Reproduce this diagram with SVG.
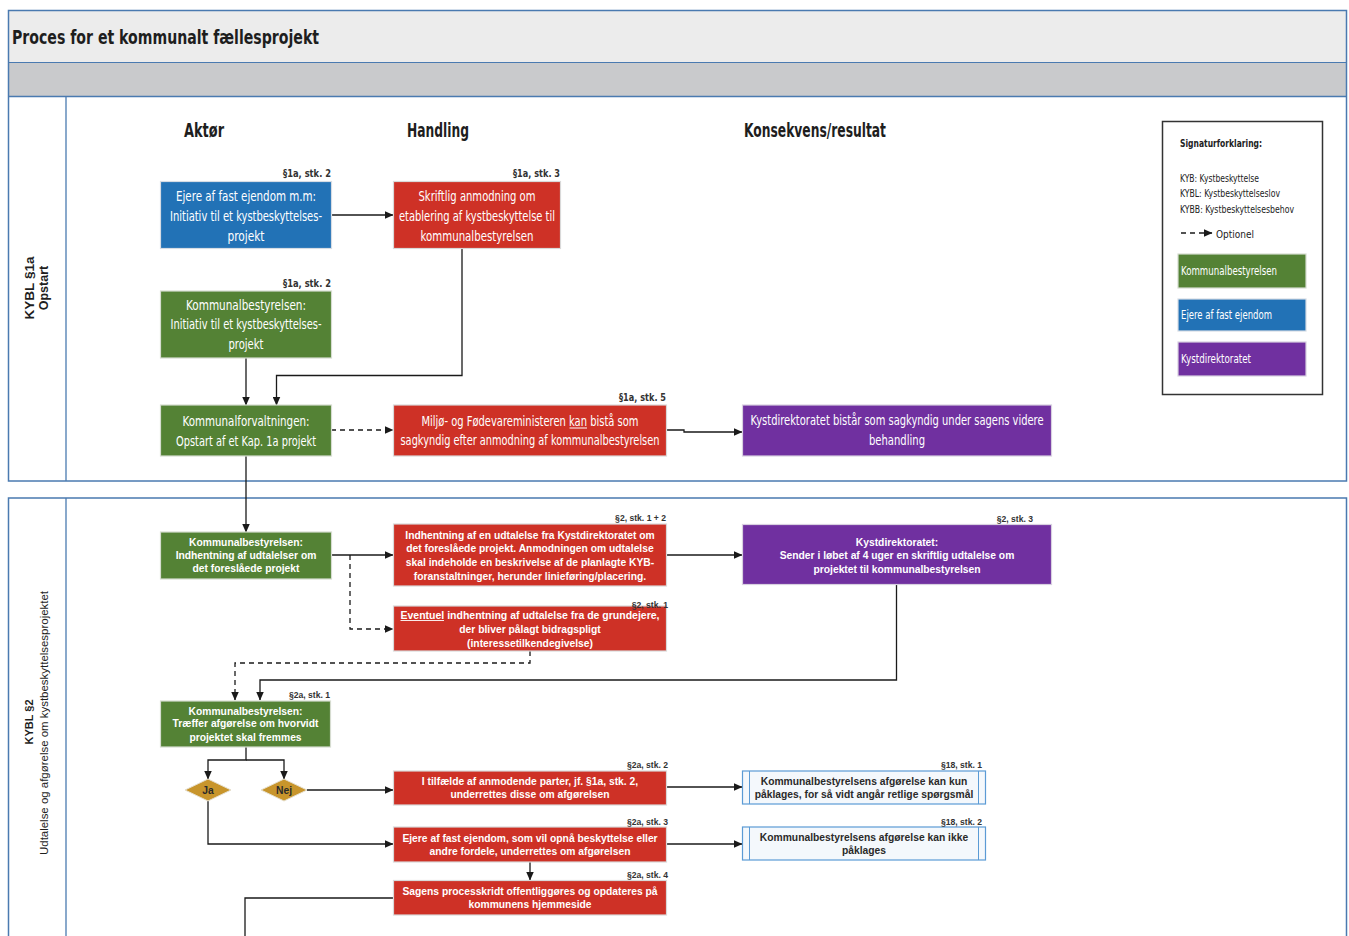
<svg xmlns="http://www.w3.org/2000/svg" width="1349" height="936" viewBox="0 0 1349 936">
<defs>
<marker id="ah" markerUnits="userSpaceOnUse" markerWidth="9" markerHeight="8" refX="8.5" refY="4" orient="auto">
<path d="M0,0 L9,4 L0,8 z" fill="#1a1a1a"/>
</marker>
<style>
.frame{fill:none;stroke:#4a7ab0;stroke-width:1.5}
.n1{font-family:"Liberation Sans Narrow","DejaVu Sans Condensed","Liberation Sans",sans-serif;font-size:13.5px;fill:#fff;text-anchor:middle}
.hd{font-family:"Liberation Sans Narrow","DejaVu Sans Condensed","Liberation Sans",sans-serif;font-size:20px;fill:#1e1e1e}
.s1{font-family:"Liberation Sans Narrow","DejaVu Sans Condensed","Liberation Sans",sans-serif;font-size:11px;font-weight:bold;fill:#333;text-anchor:end}
.n2{font-family:"Liberation Sans",Arial,sans-serif;font-size:10.3px;font-weight:bold;fill:#fff;text-anchor:middle}
.d2{font-family:"Liberation Sans",Arial,sans-serif;font-size:10.3px;font-weight:bold;fill:#2a2a2a;text-anchor:middle}
.s2{font-family:"Liberation Sans",Arial,sans-serif;font-size:8.6px;font-weight:bold;fill:#333;text-anchor:end}
.lg{font-family:"Liberation Sans Narrow","DejaVu Sans Condensed","Liberation Sans",sans-serif;font-size:10.5px;fill:#222}
.lw{font-family:"Liberation Sans Narrow","DejaVu Sans Condensed","Liberation Sans",sans-serif;font-size:11.5px;fill:#fff}
.blue{fill:#2272b6;stroke:#d6dce4;stroke-width:1.2}
.red{fill:#ce3126;stroke:#d9d9d9;stroke-width:1.2}
.green{fill:#548235;stroke:#d6dcd0;stroke-width:1.2}
.purple{fill:#7030a0;stroke:#d8d0e0;stroke-width:1.2}
.res{fill:#f4f8fc;stroke:#5b9bd5;stroke-width:1.2}
.dia{fill:#c8952c;stroke:#e6e0d0;stroke-width:1}
.c{fill:none;stroke:#1a1a1a;stroke-width:1.3}
.cd{fill:none;stroke:#1a1a1a;stroke-width:1.3;stroke-dasharray:5,4}
.side{font-family:"Liberation Sans",Arial,sans-serif;fill:#1e1e1e;text-anchor:middle}
</style>
</defs>

<!-- frame -->
<g id="frame">
<rect x="8.5" y="10.5" width="1338" height="52" fill="#ececec"/>
<rect x="8.5" y="62.5" width="1338" height="34" fill="#c9cacc"/>
<rect x="8.5" y="10.5" width="1338" height="470.5" class="frame"/>
<line x1="8.5" y1="62.5" x2="1346.5" y2="62.5" stroke="#4a7ab0" stroke-width="1"/>
<line x1="8.5" y1="96.5" x2="1346.5" y2="96.5" stroke="#4a7ab0" stroke-width="1.5"/>
<line x1="66" y1="96.5" x2="66" y2="481" stroke="#4a7ab0" stroke-width="1.3"/>
<path d="M8.5,936 V498 H1346.5 V936" class="frame"/>
<line x1="66" y1="498" x2="66" y2="936" stroke="#4a7ab0" stroke-width="1.3"/>
<text x="12" y="44" class="hd" font-size="21" font-weight="bold" textLength="307" lengthAdjust="spacingAndGlyphs">Proces for et kommunalt fællesprojekt</text>
<text class="side" font-size="12.5" font-weight="bold" transform="rotate(-90 34 288)" x="34" y="288" textLength="63" lengthAdjust="spacingAndGlyphs">KYBL §1a</text>
<text class="side" font-size="12.5" font-weight="bold" transform="rotate(-90 48 288)" x="48" y="288">Opstart</text>
<text class="side" font-size="11" font-weight="bold" transform="rotate(-90 33 722)" x="33" y="722">KYBL §2</text>
<text class="side" font-size="11" transform="rotate(-90 48 723)" x="48" y="723" textLength="264" lengthAdjust="spacingAndGlyphs">Udtalelse og afgørelse om kystbeskyttelsesprojektet</text>
</g>

<g id="headers">
<text x="184" y="137" class="hd" font-weight="bold" textLength="40" lengthAdjust="spacingAndGlyphs">Aktør</text>
<text x="407" y="137" class="hd" font-weight="bold" textLength="62" lengthAdjust="spacingAndGlyphs">Handling</text>
<text x="744" y="137" class="hd" font-weight="bold" textLength="142" lengthAdjust="spacingAndGlyphs">Konsekvens/resultat</text>
</g>

<!-- legend -->
<g id="legend">
<rect x="1162.5" y="121.5" width="160" height="273" fill="#fff" stroke="#333" stroke-width="1.5"/>
<text x="1180" y="147" class="lg" font-weight="bold" font-size="11.5" textLength="82" lengthAdjust="spacingAndGlyphs">Signaturforklaring:</text>
<text x="1180" y="182" class="lg" textLength="79" lengthAdjust="spacingAndGlyphs">KYB: Kystbeskyttelse</text>
<text x="1180" y="197" class="lg" textLength="100" lengthAdjust="spacingAndGlyphs">KYBL: Kystbeskyttelseslov</text>
<text x="1180" y="213" class="lg" textLength="114" lengthAdjust="spacingAndGlyphs">KYBB: Kystbeskyttelsesbehov</text>
<path d="M1181,233 H1212" class="cd" stroke-dasharray="5,3" marker-end="url(#ah)"/>
<text x="1216" y="237.5" class="lg" font-size="12" textLength="38" lengthAdjust="spacingAndGlyphs">Optionel</text>
<rect x="1178" y="254" width="128" height="34" class="green"/>
<text x="1181" y="275" class="lw" textLength="96" lengthAdjust="spacingAndGlyphs">Kommunalbestyrelsen</text>
<rect x="1178" y="299" width="128" height="32" class="blue"/>
<text x="1181" y="319" class="lw" textLength="91" lengthAdjust="spacingAndGlyphs">Ejere af fast ejendom</text>
<rect x="1178" y="342" width="128" height="34" class="purple"/>
<text x="1181" y="363" class="lw" textLength="70" lengthAdjust="spacingAndGlyphs">Kystdirektoratet</text>
</g>

<!-- connectors -->
<g id="connectors">
<path d="M331,215 H393" class="c" marker-end="url(#ah)"/>
<path d="M462,248 V375.5 H276.5 V405" class="c" marker-end="url(#ah)"/>
<path d="M246,358 V405" class="c" marker-end="url(#ah)"/>
<path d="M331,430 H393" class="cd" marker-end="url(#ah)"/>
<path d="M666,430 H684 V432 H742" class="c" marker-end="url(#ah)"/>
<path d="M246,456 V532" class="c" marker-end="url(#ah)"/>
<path d="M331,555 H393" class="c" marker-end="url(#ah)"/>
<path d="M666,555 H742" class="c" marker-end="url(#ah)"/>
<path d="M350,555 V629 H393" class="cd" marker-end="url(#ah)"/>
<path d="M530,651 V663 H235 V700" class="cd" marker-end="url(#ah)"/>
<path d="M896.5,585 V680 H260 V700" class="c" marker-end="url(#ah)"/>
<path d="M246,747 V760 H208 V779" class="c" marker-end="url(#ah)"/>
<path d="M246,760 H284 V779" class="c" marker-end="url(#ah)"/>
<path d="M307,790 H393" class="c" marker-end="url(#ah)"/>
<path d="M666,787 H742" class="c" marker-end="url(#ah)"/>
<path d="M208,801 V844 H393" class="c" marker-end="url(#ah)"/>
<path d="M666,844 H742" class="c" marker-end="url(#ah)"/>
<path d="M530,862 V880" class="c" marker-end="url(#ah)"/>
<path d="M393,898 H245 V936" class="c"/>
</g>

<!-- section 1 nodes -->
<g id="n-ejere">
<rect x="160.5" y="181.5" width="171" height="67" class="blue"/>
<text class="s1" x="331" y="177" textLength="48" lengthAdjust="spacingAndGlyphs">§1a, stk. 2</text>
<text class="n1" x="246" y="201" textLength="140" lengthAdjust="spacingAndGlyphs">Ejere af fast ejendom m.m:</text>
<text class="n1" x="246" y="221" textLength="152" lengthAdjust="spacingAndGlyphs">Initiativ til et kystbeskyttelses-</text>
<text class="n1" x="246" y="241" textLength="37" lengthAdjust="spacingAndGlyphs">projekt</text>
</g>
<g id="n-skriftlig">
<rect x="393.5" y="181.5" width="167" height="67" class="red"/>
<text class="s1" x="560" y="177" textLength="47" lengthAdjust="spacingAndGlyphs">§1a, stk. 3</text>
<text class="n1" x="477" y="201" textLength="117" lengthAdjust="spacingAndGlyphs">Skriftlig anmodning om</text>
<text class="n1" x="477" y="221" textLength="156" lengthAdjust="spacingAndGlyphs">etablering af kystbeskyttelse til</text>
<text class="n1" x="477" y="241" textLength="113" lengthAdjust="spacingAndGlyphs">kommunalbestyrelsen</text>
</g>
<g id="n-kb-initiativ">
<rect x="160.5" y="291" width="171" height="67" class="green"/>
<text class="s1" x="331" y="287" textLength="48" lengthAdjust="spacingAndGlyphs">§1a, stk. 2</text>
<text class="n1" x="246" y="309.5" textLength="120" lengthAdjust="spacingAndGlyphs">Kommunalbestyrelsen:</text>
<text class="n1" x="246" y="329" textLength="151" lengthAdjust="spacingAndGlyphs">Initiativ til et kystbeskyttelses-</text>
<text class="n1" x="246" y="349" textLength="35" lengthAdjust="spacingAndGlyphs">projekt</text>
</g>
<g id="n-kf-opstart">
<rect x="160.5" y="405" width="171" height="51" class="green"/>
<text class="n1" x="246" y="426" textLength="127" lengthAdjust="spacingAndGlyphs">Kommunalforvaltningen:</text>
<text class="n1" x="246" y="446" textLength="140" lengthAdjust="spacingAndGlyphs">Opstart af et Kap. 1a projekt</text>
</g>
<g id="n-miljo">
<rect x="393.5" y="405" width="273" height="51" class="red"/>
<text class="s1" x="666" y="401" textLength="47" lengthAdjust="spacingAndGlyphs">§1a, stk. 5</text>
<text class="n1" x="530" y="425.5" textLength="217" lengthAdjust="spacingAndGlyphs">Miljø- og Fødevareministeren kan bistå som</text>
<line x1="569.5" y1="428" x2="587" y2="428" stroke="#fff" stroke-width="1"/>
<text class="n1" x="530" y="444.5" textLength="259" lengthAdjust="spacingAndGlyphs">sagkyndig efter anmodning af kommunalbestyrelsen</text>
</g>
<g id="n-kd-bistaar">
<rect x="742.5" y="405" width="309" height="51" class="purple"/>
<text class="n1" x="897" y="424.5" textLength="293" lengthAdjust="spacingAndGlyphs">Kystdirektoratet bistår som sagkyndig under sagens videre</text>
<text class="n1" x="897" y="444.5" textLength="56" lengthAdjust="spacingAndGlyphs">behandling</text>
</g>

<!-- section 2 nodes -->
<g id="n-kb-indhentning">
<rect x="160.5" y="532" width="171" height="47" class="green"/>
<text class="n2" x="246" y="545.5">Kommunalbestyrelsen:</text>
<text class="n2" x="246" y="558.5">Indhentning af udtalelser om</text>
<text class="n2" x="246" y="571.5">det foreslåede projekt</text>
</g>
<g id="n-udtalelse-kd">
<rect x="393.5" y="524" width="273" height="62" class="red"/>
<text class="s2" x="666" y="521">§2, stk. 1 + 2</text>
<text class="n2" x="530" y="538.5">Indhentning af en udtalelse fra Kystdirektoratet om</text>
<text class="n2" x="530" y="552">det foreslåede projekt. Anmodningen om udtalelse</text>
<text class="n2" x="530" y="566">skal indeholde en beskrivelse af de planlagte KYB-</text>
<text class="n2" x="530" y="579.5">foranstaltninger, herunder linieføring/placering.</text>
</g>
<g id="n-kd-sender">
<rect x="742.5" y="524.5" width="309" height="60" class="purple"/>
<text class="s2" x="1033" y="521.5">§2, stk. 3</text>
<text class="n2" x="897" y="545.5">Kystdirektoratet:</text>
<text class="n2" x="897" y="558.5">Sender i løbet af 4 uger en skriftlig udtalelse om</text>
<text class="n2" x="897" y="572.5">projektet til kommunalbestyrelsen</text>
</g>
<g id="n-eventuel">
<rect x="393.5" y="606" width="273" height="45" class="red"/>
<text class="s2" x="668" y="608">§2, stk. 1</text>
<text class="n2" x="530" y="618.5" textLength="259" lengthAdjust="spacingAndGlyphs">Eventuel indhentning af udtalelse fra de grundejere,</text>
<line x1="400.5" y1="620.5" x2="444" y2="620.5" stroke="#fff" stroke-width="0.9"/>
<text class="n2" x="530" y="632.5">der bliver pålagt bidragspligt</text>
<text class="n2" x="530" y="646.5">(interessetilkendegivelse)</text>
</g>
<g id="n-kb-afgoerelse">
<rect x="160.5" y="701" width="170" height="46" class="green"/>
<text class="s2" x="330" y="697.5">§2a, stk. 1</text>
<text class="n2" x="245.5" y="714.5">Kommunalbestyrelsen:</text>
<text class="n2" x="245.5" y="727">Træffer afgørelse om hvorvidt</text>
<text class="n2" x="245.5" y="740.5">projektet skal fremmes</text>
</g>
<g id="n-ja">
<polygon points="185,790 208,779 231,790 208,801" class="dia"/>
<text x="208" y="793.5" class="d2" font-size="9">Ja</text>
</g>
<g id="n-nej">
<polygon points="261,790 284,779 307,790 284,801" class="dia"/>
<text x="284" y="793.5" class="d2" font-size="9">Nej</text>
</g>
<g id="n-anmodende">
<rect x="393.5" y="771" width="273" height="34" class="red"/>
<text class="s2" x="668" y="768">§2a, stk. 2</text>
<text class="n2" x="530" y="784.5">I tilfælde af anmodende parter, jf. §1a, stk. 2,</text>
<text class="n2" x="530" y="798">underrettes disse om afgørelsen</text>
</g>
<g id="n-paaklage-retlige">
<rect x="742.5" y="771" width="243" height="33" class="res"/>
<line x1="749.5" y1="771" x2="749.5" y2="804" stroke="#5b9bd5" stroke-width="1"/>
<line x1="978.5" y1="771" x2="978.5" y2="804" stroke="#5b9bd5" stroke-width="1"/>
<text class="s2" x="982" y="767.5">§18, stk. 1</text>
<text class="d2" x="864" y="784.5">Kommunalbestyrelsens afgørelse kan kun</text>
<text class="d2" x="864" y="797.5">påklages, for så vidt angår retlige spørgsmål</text>
</g>
<g id="n-ejere-underrettes">
<rect x="393.5" y="827" width="273" height="35" class="red"/>
<text class="s2" x="668" y="824.5">§2a, stk. 3</text>
<text class="n2" x="530" y="841.5">Ejere af fast ejendom, som vil opnå beskyttelse eller</text>
<text class="n2" x="530" y="855">andre fordele, underrettes om afgørelsen</text>
</g>
<g id="n-paaklage-ikke">
<rect x="742.5" y="827" width="243" height="33" class="res"/>
<line x1="749.5" y1="827" x2="749.5" y2="860" stroke="#5b9bd5" stroke-width="1"/>
<line x1="978.5" y1="827" x2="978.5" y2="860" stroke="#5b9bd5" stroke-width="1"/>
<text class="s2" x="982" y="824.5">§18, stk. 2</text>
<text class="d2" x="864" y="840.5">Kommunalbestyrelsens afgørelse kan ikke</text>
<text class="d2" x="864" y="853.5">påklages</text>
</g>
<g id="n-processkridt">
<rect x="393.5" y="880.5" width="273" height="34.5" class="red"/>
<text class="s2" x="668" y="878">§2a, stk. 4</text>
<text class="n2" x="530" y="894.5">Sagens processkridt offentliggøres og opdateres på</text>
<text class="n2" x="530" y="907.5">kommunens hjemmeside</text>
</g>
</svg>
